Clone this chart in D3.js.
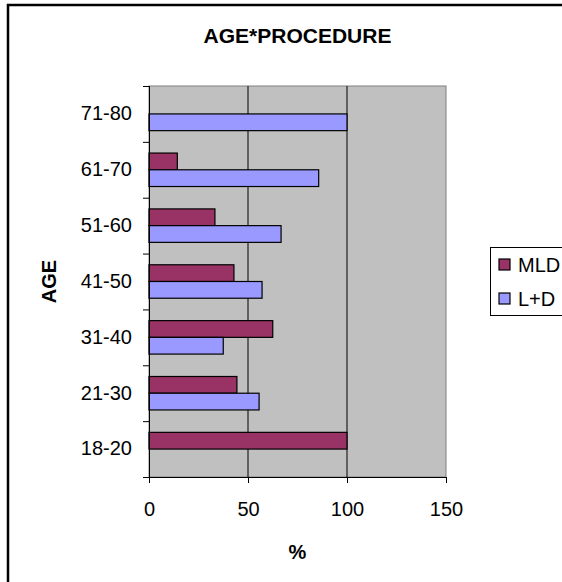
<!DOCTYPE html>
<html>
<head>
<meta charset="utf-8">
<script src="https://cdn.jsdelivr.net/npm/d3@7"></script>
<style>
  body { margin: 0; background: #fff; }
  svg { display: block; }
  svg text { font-family: "Liberation Sans", Arial, sans-serif; fill: #000; }
</style>
</head>
<body>
<svg id="chart" width="562" height="582"></svg>
<script>
// age groups, bottom to top as drawn
const ageGroups = ["18-20", "21-30", "31-40", "41-50", "51-60", "61-70", "71-80"];
const series = ["MLD", "L+D"];
const mld = [100, 44.4, 62.5, 42.9, 33.3, 14.3, 0];
const lpd = [0, 55.6, 37.5, 57.1, 66.7, 85.7, 100];
const xTicks = [0, 50, 100, 150];
const colors = { "MLD": "#993366", "L+D": "#9999FF" };

const rows = ageGroups.map((g, i) => ({ age: g, "MLD": mld[i], "L+D": lpd[i] }));

const svg = d3.select("#chart");
const plot = { left: 149, right: 446, top: 86, bottom: 477 };

// outer frame (runs off the right/bottom of the picture)
svg.append("rect")
  .attr("x", 8).attr("y", 5)
  .attr("width", 600).attr("height", 620)
  .attr("fill", "#fff")
  .attr("stroke", "#000")
  .attr("stroke-width", 2.5);

const x = d3.scaleLinear().domain([0, 150]).range([plot.left, plot.right]);
const y0 = d3.scaleBand()
  .domain(ageGroups.slice().reverse())
  .range([plot.top, plot.bottom])
  .padding(0);
const y1 = d3.scaleBand()
  .domain(series)
  .range([0, y0.bandwidth()])
  .paddingInner(0)
  .paddingOuter(0.67);

// plot background
svg.append("rect")
  .attr("x", plot.left).attr("y", plot.top)
  .attr("width", plot.right - plot.left)
  .attr("height", plot.bottom - plot.top)
  .attr("fill", "#C0C0C0")
  .attr("stroke", "#808080")
  .attr("stroke-width", 1);

// gridlines
svg.append("g")
  .selectAll("line")
  .data(xTicks.filter(d => d > 0 && d < 150))
  .join("line")
  .attr("x1", d => x(d)).attr("x2", d => x(d))
  .attr("y1", plot.top).attr("y2", plot.bottom)
  .attr("stroke", "#000")
  .attr("stroke-width", 1);

// bars
const groups = svg.append("g")
  .selectAll("g")
  .data(rows)
  .join("g")
  .attr("transform", d => `translate(0,${y0(d.age)})`);

groups.selectAll("rect")
  .data(d => series.map(s => ({ key: s, value: d[s] })).filter(d => d.value > 0))
  .join("rect")
  .attr("x", x(0))
  .attr("y", d => y1(d.key))
  .attr("width", d => x(d.value) - x(0))
  .attr("height", y1.bandwidth())
  .attr("fill", d => colors[d.key])
  .attr("stroke", "#000")
  .attr("stroke-width", 1.2);

// x axis
const xAxis = svg.append("g")
  .attr("transform", `translate(0,${plot.bottom})`)
  .call(d3.axisBottom(x).tickValues(xTicks).tickSize(6).tickPadding(19));
xAxis.select(".domain").attr("stroke", "#000").attr("d", `M${plot.left - 6},0.5H${plot.right}`);
xAxis.selectAll("text").style("font-size", "20px");

// y axis
const yAxis = svg.append("g")
  .attr("transform", `translate(${plot.left},0)`)
  .call(d3.axisLeft(y0).tickSize(0).tickPadding(17));
yAxis.select(".domain").attr("stroke", "#000").attr("d", `M0.5,${plot.top}V${plot.bottom}`);
yAxis.selectAll("text").style("font-size", "20px");

// y ticks on band boundaries
svg.append("g")
  .selectAll("line")
  .data(ageGroups)
  .join("line")
  .attr("x1", plot.left - 6).attr("x2", plot.left)
  .attr("y1", d => y0(d) + 0.5).attr("y2", d => y0(d) + 0.5)
  .attr("stroke", "#000");

// title and axis titles
svg.append("text")
  .attr("x", (plot.left + plot.right) / 2).attr("y", 43)
  .attr("text-anchor", "middle")
  .style("font-size", "21px").style("font-weight", "bold")
  .text("AGE*PROCEDURE");

svg.append("text")
  .attr("x", (plot.left + plot.right) / 2).attr("y", 559)
  .attr("text-anchor", "middle")
  .style("font-size", "20px").style("font-weight", "bold")
  .text("%");

svg.append("text")
  .attr("transform", `translate(56,${(plot.top + plot.bottom) / 2}) rotate(-90)`)
  .attr("text-anchor", "middle")
  .style("font-size", "20px").style("font-weight", "bold")
  .text("AGE");

// legend
const legend = svg.append("g").attr("transform", "translate(490,247)");
legend.append("rect")
  .attr("x", 0.5).attr("y", 0.5)
  .attr("width", 100).attr("height", 68)
  .attr("fill", "#fff")
  .attr("stroke", "#000");
const items = legend.selectAll("g.item")
  .data(series)
  .join("g")
  .attr("class", "item")
  .attr("transform", (d, i) => `translate(9,${12 + i * 34})`);
items.append("rect")
  .attr("width", 11).attr("height", 11)
  .attr("fill", d => colors[d])
  .attr("stroke", "#000")
  .attr("stroke-width", 1.2);
items.append("text")
  .attr("x", 19).attr("y", 5.5)
  .attr("dominant-baseline", "central")
  .style("font-size", "20px")
  .text(d => d);
</script>
</body>
</html>
